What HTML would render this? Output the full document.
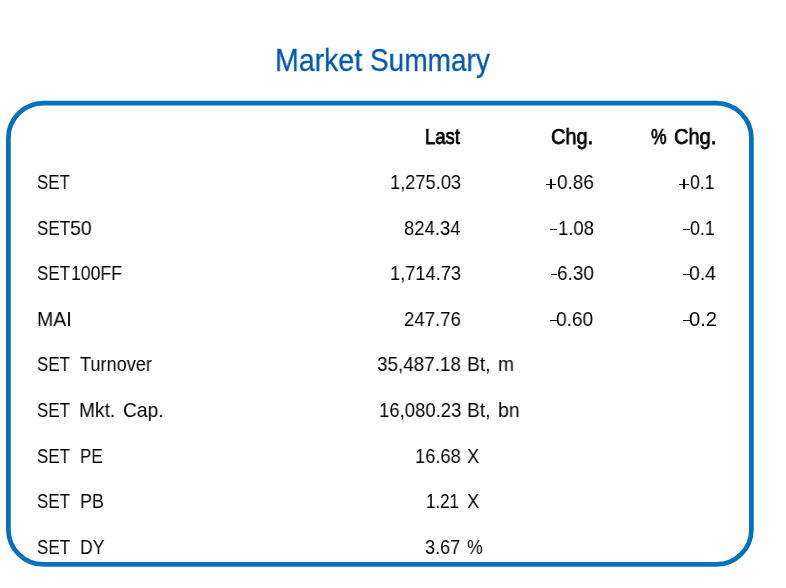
<!DOCTYPE html>
<html><head><meta charset="utf-8">
<style>
html,body{margin:0;padding:0;background:#fff;}
body{width:786px;height:588px;position:relative;overflow:hidden;font-family:"Liberation Sans",sans-serif;}
span{position:absolute;will-change:transform;white-space:pre;line-height:1;transform-origin:0 0;display:block;}
i{position:absolute;display:block;background:#111;}
.n{font-size:20.2px;color:#000;}
.b{font-size:21.6px;color:#000;-webkit-text-stroke:0.75px #000;}
.title{font-size:32.0px;color:#005aab;-webkit-text-stroke:0.3px #005aab;}
svg{position:absolute;left:0;top:0;}
</style></head><body>
<svg width="786" height="588"><rect x="8.4" y="103.2" width="743" height="461.2" rx="35" ry="35" fill="none" stroke="#0070c0" stroke-width="4.7"/></svg>
<span class="title" style="left:275.12px;top:44px;transform:scaleX(0.8917)">Market</span>
<span class="title" style="left:370.43px;top:44px;transform:scaleX(0.8752)">Summary</span>
<span class="b" style="left:424.98px;top:126px;transform:scaleX(0.8555)">Last</span>
<span class="b" style="left:551.20px;top:126px;transform:scaleX(0.9274)">Chg.</span>
<span class="b" style="left:650.63px;top:126px;transform:scaleX(0.8058)">%</span>
<span class="b" style="left:674.20px;top:126px;transform:scaleX(0.9297)">Chg.</span>
<span class="n" style="left:37.45px;top:172px;transform:scaleX(0.8351)">SET</span>
<span class="n" style="left:389.81px;top:172px;transform:scaleX(0.9045)">1,275.03</span>
<span class="n" style="left:556.73px;top:172px;transform:scaleX(0.9394)">0.86</span>
<span class="n" style="left:689.79px;top:172px;transform:scaleX(0.8752)">0.1</span>
<span class="n" style="left:37.24px;top:218px;transform:scaleX(0.8405)">SET</span>
<span class="n" style="left:70.13px;top:218px;transform:scaleX(0.9650)">50</span>
<span class="n" style="left:403.53px;top:218px;transform:scaleX(0.9153)">824.34</span>
<span class="n" style="left:557.59px;top:218px;transform:scaleX(0.9177)">1.08</span>
<span class="n" style="left:689.58px;top:218px;transform:scaleX(0.8829)">0.1</span>
<span class="n" style="left:37.24px;top:263px;transform:scaleX(0.8405)">SET</span>
<span class="n" style="left:71.46px;top:263px;transform:scaleX(0.8719)">100FF</span>
<span class="n" style="left:389.71px;top:263px;transform:scaleX(0.9045)">1,714.73</span>
<span class="n" style="left:556.58px;top:263px;transform:scaleX(0.9411)">6.30</span>
<span class="n" style="left:689.41px;top:263px;transform:scaleX(0.9635)">0.4</span>
<span class="n" style="left:37.19px;top:309px;transform:scaleX(0.9678)">MAI</span>
<span class="n" style="left:403.51px;top:309px;transform:scaleX(0.9214)">247.76</span>
<span class="n" style="left:556.43px;top:309px;transform:scaleX(0.9476)">0.60</span>
<span class="n" style="left:689.40px;top:309px;transform:scaleX(0.9868)">0.2</span>
<span class="n" style="left:37.45px;top:354px;transform:scaleX(0.8378)">SET</span>
<span class="n" style="left:79.68px;top:354px;transform:scaleX(0.8994)">Turnover</span>
<span class="n" style="left:377.23px;top:354px;transform:scaleX(0.9350)">35,487.18</span>
<span class="n" style="left:466.52px;top:354px;transform:scaleX(0.9518)">Bt,</span>
<span class="n" style="left:497.57px;top:354px;transform:scaleX(0.9518)">m</span>
<span class="n" style="left:37.45px;top:400px;transform:scaleX(0.8378)">SET</span>
<span class="n" style="left:79.42px;top:400px;transform:scaleX(0.9509)">Mkt.</span>
<span class="n" style="left:122.66px;top:400px;transform:scaleX(0.9534)">Cap.</span>
<span class="n" style="left:378.79px;top:400px;transform:scaleX(0.9175)">16,080.23</span>
<span class="n" style="left:466.52px;top:400px;transform:scaleX(0.9518)">Bt,</span>
<span class="n" style="left:497.60px;top:400px;transform:scaleX(0.9637)">bn</span>
<span class="n" style="left:37.45px;top:446px;transform:scaleX(0.8378)">SET</span>
<span class="n" style="left:79.80px;top:446px;transform:scaleX(0.8430)">PE</span>
<span class="n" style="left:414.61px;top:446px;transform:scaleX(0.9069)">16.68</span>
<span class="n" style="left:466.56px;top:446px;transform:scaleX(0.9095)">X</span>
<span class="n" style="left:37.45px;top:491px;transform:scaleX(0.8378)">SET</span>
<span class="n" style="left:79.73px;top:491px;transform:scaleX(0.8869)">PB</span>
<span class="n" style="left:425.61px;top:491px;transform:scaleX(0.8393)">1.21</span>
<span class="n" style="left:466.56px;top:491px;transform:scaleX(0.9095)">X</span>
<span class="n" style="left:37.44px;top:537px;transform:scaleX(0.8405)">SET</span>
<span class="n" style="left:79.55px;top:537px;transform:scaleX(0.8734)">DY</span>
<span class="n" style="left:424.57px;top:537px;transform:scaleX(0.8984)">3.67</span>
<span class="n" style="left:466.92px;top:537px;transform:scaleX(0.8825)">%</span>
<i style="left:546.00px;top:183.80px;width:9.90px;height:1.4px"></i>
<i style="left:550.20px;top:179.10px;width:1.5px;height:9.7px"></i>
<i style="left:679.00px;top:183.80px;width:9.90px;height:1.4px"></i>
<i style="left:683.20px;top:179.10px;width:1.5px;height:9.7px"></i>
<i style="left:550.10px;top:228.75px;width:7.00px;height:1.4px"></i>
<i style="left:683.30px;top:228.75px;width:6.50px;height:1.4px"></i>
<i style="left:550.70px;top:273.85px;width:6.50px;height:1.4px"></i>
<i style="left:683.40px;top:273.85px;width:6.40px;height:1.4px"></i>
<i style="left:550.30px;top:319.75px;width:6.50px;height:1.4px"></i>
<i style="left:683.40px;top:319.75px;width:6.60px;height:1.4px"></i>
</body></html>
